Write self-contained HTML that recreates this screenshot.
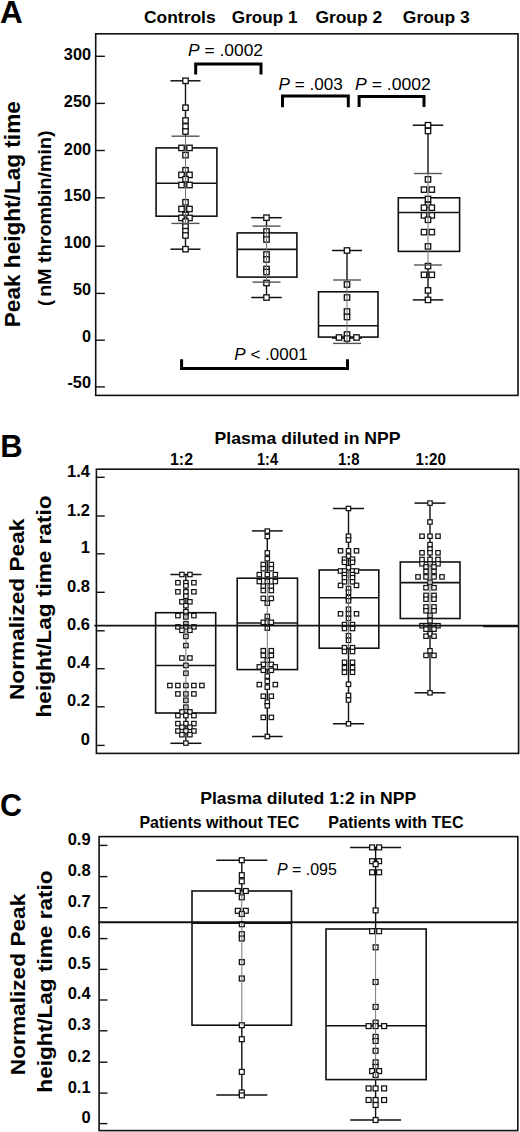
<!DOCTYPE html><html><head><meta charset="utf-8"><style>html,body{margin:0;padding:0;background:#fff;}svg{display:block;}text{font-family:"Liberation Sans", sans-serif;fill:#000;}</style></head><body>
<svg width="520" height="1132" viewBox="0 0 520 1132">
<rect x="0" y="0" width="520" height="1132" fill="#fff"/>
<text x="0.0" y="22.6" font-size="31.5" font-weight="bold" text-anchor="start">A</text>
<text x="144.0" y="23.0" font-size="17" font-weight="bold" text-anchor="start" textLength="71.6" lengthAdjust="spacingAndGlyphs">Controls</text>
<text x="231.8" y="23.0" font-size="17" font-weight="bold" text-anchor="start" textLength="65.7" lengthAdjust="spacingAndGlyphs">Group 1</text>
<text x="315.4" y="23.0" font-size="17" font-weight="bold" text-anchor="start" textLength="66.8" lengthAdjust="spacingAndGlyphs">Group 2</text>
<text x="402.8" y="23.0" font-size="17" font-weight="bold" text-anchor="start" textLength="67.0" lengthAdjust="spacingAndGlyphs">Group 3</text>
<rect x="95.7" y="33.8" width="422.3" height="361.59999999999997" fill="none" stroke="#111" stroke-width="1.6"/>
<line x1="95.7" y1="56.3" x2="104.9" y2="56.3" stroke="#111" stroke-width="1.4" stroke-linecap="butt"/>
<text x="91.0" y="60.1" font-size="16.3" font-weight="bold" text-anchor="end">300</text>
<line x1="95.7" y1="103.4" x2="104.9" y2="103.4" stroke="#111" stroke-width="1.4" stroke-linecap="butt"/>
<text x="91.0" y="107.2" font-size="16.3" font-weight="bold" text-anchor="end">250</text>
<line x1="95.7" y1="150.5" x2="104.9" y2="150.5" stroke="#111" stroke-width="1.4" stroke-linecap="butt"/>
<text x="91.0" y="154.6" font-size="16.3" font-weight="bold" text-anchor="end">200</text>
<line x1="95.7" y1="197.8" x2="104.9" y2="197.8" stroke="#111" stroke-width="1.4" stroke-linecap="butt"/>
<text x="91.0" y="200.7" font-size="16.3" font-weight="bold" text-anchor="end">150</text>
<line x1="95.7" y1="246.2" x2="104.9" y2="246.2" stroke="#111" stroke-width="1.4" stroke-linecap="butt"/>
<text x="91.0" y="247.6" font-size="16.3" font-weight="bold" text-anchor="end">100</text>
<line x1="95.7" y1="293.4" x2="104.9" y2="293.4" stroke="#111" stroke-width="1.4" stroke-linecap="butt"/>
<text x="91.0" y="294.7" font-size="16.3" font-weight="bold" text-anchor="end">50</text>
<line x1="95.7" y1="340.2" x2="104.9" y2="340.2" stroke="#111" stroke-width="1.4" stroke-linecap="butt"/>
<text x="91.0" y="341.9" font-size="16.3" font-weight="bold" text-anchor="end">0</text>
<line x1="95.7" y1="386.9" x2="104.9" y2="386.9" stroke="#111" stroke-width="1.4" stroke-linecap="butt"/>
<text x="91.0" y="388.2" font-size="16.3" font-weight="bold" text-anchor="end">-50</text>
<text transform="translate(20.2,214.2) rotate(-90)" x="0" y="0" font-size="22" font-weight="bold" text-anchor="middle" textLength="226" lengthAdjust="spacingAndGlyphs">Peak height/Lag time</text>
<text transform="translate(50.8,213.6) rotate(-90)" x="0" y="0" font-size="18" font-weight="bold" text-anchor="middle" textLength="166.5" lengthAdjust="spacingAndGlyphs">nM thrombin/min)</text>
<text transform="translate(50.8,303.1) rotate(-90)" x="0" y="0" font-size="18" font-weight="bold" text-anchor="middle">(</text>
<path d="M195.7 74.4 L195.7 64.0 L261.0 64.0 L261.0 74.4" fill="none" stroke="#000" stroke-width="3.0"/>
<path d="M282.5 107.2 L282.5 96.0 L348.3 96.0 L348.3 107.2" fill="none" stroke="#000" stroke-width="3.0"/>
<path d="M359.1 107.0 L359.1 96.4 L424.0 96.4 L424.0 107.0" fill="none" stroke="#000" stroke-width="3.0"/>
<path d="M181.6 359.2 L181.6 368.5 L347.5 368.5 L347.5 359.2" fill="none" stroke="#000" stroke-width="3"/>
<text x="188" y="55.8" font-size="16.8" textLength="75" lengthAdjust="spacingAndGlyphs"><tspan font-style="italic">P</tspan> = .0002</text>
<text x="278.5" y="89.5" font-size="16.8" textLength="64.2" lengthAdjust="spacingAndGlyphs"><tspan font-style="italic">P</tspan> = .003</text>
<text x="355" y="89.7" font-size="16.8" textLength="75.9" lengthAdjust="spacingAndGlyphs"><tspan font-style="italic">P</tspan> = .0002</text>
<text x="234.3" y="360" font-size="16.8" textLength="73.4" lengthAdjust="spacingAndGlyphs"><tspan font-style="italic">P</tspan> &lt; .0001</text>
<line x1="185.5" y1="80.8" x2="185.5" y2="136.2" stroke="#111" stroke-width="1.4" stroke-linecap="butt"/>
<line x1="185.5" y1="223.4" x2="185.5" y2="249.2" stroke="#111" stroke-width="1.4" stroke-linecap="butt"/>
<rect x="156.1" y="147.9" width="60.80000000000001" height="68.29999999999998" fill="none" stroke="#111" stroke-width="1.6"/>
<line x1="156.1" y1="183.3" x2="216.9" y2="183.3" stroke="#111" stroke-width="1.6" stroke-linecap="butt"/>
<line x1="170.5" y1="80.8" x2="200.5" y2="80.8" stroke="#111" stroke-width="1.5" stroke-linecap="butt"/>
<line x1="170.5" y1="249.2" x2="200.5" y2="249.2" stroke="#111" stroke-width="1.5" stroke-linecap="butt"/>
<rect x="182.80" y="78.10" width="5.4" height="5.4" fill="#fff" stroke="#111" stroke-width="1.3"/>
<rect x="182.80" y="105.00" width="5.4" height="5.4" fill="#fff" stroke="#111" stroke-width="1.3"/>
<rect x="182.80" y="117.80" width="5.4" height="5.4" fill="#fff" stroke="#111" stroke-width="1.3"/>
<rect x="182.80" y="123.80" width="5.4" height="5.4" fill="#fff" stroke="#111" stroke-width="1.3"/>
<rect x="182.80" y="128.80" width="5.4" height="5.4" fill="#fff" stroke="#111" stroke-width="1.3"/>
<rect x="178.80" y="145.20" width="5.4" height="5.4" fill="#fff" stroke="#111" stroke-width="1.3"/>
<rect x="186.80" y="145.20" width="5.4" height="5.4" fill="#fff" stroke="#111" stroke-width="1.3"/>
<rect x="182.80" y="152.40" width="5.4" height="5.4" fill="#fff" stroke="#111" stroke-width="1.3"/>
<rect x="182.80" y="167.60" width="5.4" height="5.4" fill="#fff" stroke="#111" stroke-width="1.3"/>
<rect x="178.80" y="172.20" width="5.4" height="5.4" fill="#fff" stroke="#111" stroke-width="1.3"/>
<rect x="186.80" y="172.20" width="5.4" height="5.4" fill="#fff" stroke="#111" stroke-width="1.3"/>
<rect x="182.80" y="176.50" width="5.4" height="5.4" fill="#fff" stroke="#111" stroke-width="1.3"/>
<rect x="178.80" y="182.30" width="5.4" height="5.4" fill="#fff" stroke="#111" stroke-width="1.3"/>
<rect x="186.80" y="182.30" width="5.4" height="5.4" fill="#fff" stroke="#111" stroke-width="1.3"/>
<rect x="182.80" y="199.60" width="5.4" height="5.4" fill="#fff" stroke="#111" stroke-width="1.3"/>
<rect x="178.80" y="206.30" width="5.4" height="5.4" fill="#fff" stroke="#111" stroke-width="1.3"/>
<rect x="186.80" y="206.30" width="5.4" height="5.4" fill="#fff" stroke="#111" stroke-width="1.3"/>
<rect x="182.80" y="212.30" width="5.4" height="5.4" fill="#fff" stroke="#111" stroke-width="1.3"/>
<rect x="178.80" y="215.20" width="5.4" height="5.4" fill="#fff" stroke="#111" stroke-width="1.3"/>
<rect x="186.80" y="215.20" width="5.4" height="5.4" fill="#fff" stroke="#111" stroke-width="1.3"/>
<rect x="182.80" y="218.80" width="5.4" height="5.4" fill="#fff" stroke="#111" stroke-width="1.3"/>
<rect x="182.80" y="223.80" width="5.4" height="5.4" fill="#fff" stroke="#111" stroke-width="1.3"/>
<rect x="182.80" y="228.50" width="5.4" height="5.4" fill="#fff" stroke="#111" stroke-width="1.3"/>
<rect x="182.80" y="232.80" width="5.4" height="5.4" fill="#fff" stroke="#111" stroke-width="1.3"/>
<rect x="182.80" y="246.50" width="5.4" height="5.4" fill="#fff" stroke="#111" stroke-width="1.3"/>
<line x1="185.5" y1="136.2" x2="185.5" y2="223.4" stroke="#777" stroke-width="1.0" stroke-linecap="butt"/>
<line x1="171.5" y1="136.2" x2="199.5" y2="136.2" stroke="#555" stroke-width="1.4" stroke-linecap="butt"/>
<line x1="171.5" y1="223.4" x2="199.5" y2="223.4" stroke="#555" stroke-width="1.4" stroke-linecap="butt"/>
<line x1="266.5" y1="217.7" x2="266.5" y2="226.1" stroke="#111" stroke-width="1.4" stroke-linecap="butt"/>
<line x1="266.5" y1="282.1" x2="266.5" y2="297.5" stroke="#111" stroke-width="1.4" stroke-linecap="butt"/>
<rect x="237.2" y="232.9" width="59.69999999999999" height="44.20000000000002" fill="none" stroke="#111" stroke-width="1.6"/>
<line x1="237.2" y1="249.4" x2="296.9" y2="249.4" stroke="#111" stroke-width="1.6" stroke-linecap="butt"/>
<line x1="251.25" y1="217.7" x2="281.75" y2="217.7" stroke="#111" stroke-width="1.5" stroke-linecap="butt"/>
<line x1="251.25" y1="297.5" x2="281.75" y2="297.5" stroke="#111" stroke-width="1.5" stroke-linecap="butt"/>
<rect x="263.80" y="215.00" width="5.4" height="5.4" fill="#fff" stroke="#111" stroke-width="1.3"/>
<rect x="263.80" y="228.80" width="5.4" height="5.4" fill="#fff" stroke="#111" stroke-width="1.3"/>
<rect x="263.80" y="232.80" width="5.4" height="5.4" fill="#fff" stroke="#111" stroke-width="1.3"/>
<rect x="263.80" y="236.80" width="5.4" height="5.4" fill="#fff" stroke="#111" stroke-width="1.3"/>
<rect x="263.80" y="251.80" width="5.4" height="5.4" fill="#fff" stroke="#111" stroke-width="1.3"/>
<rect x="263.80" y="256.80" width="5.4" height="5.4" fill="#fff" stroke="#111" stroke-width="1.3"/>
<rect x="263.80" y="266.30" width="5.4" height="5.4" fill="#fff" stroke="#111" stroke-width="1.3"/>
<rect x="263.80" y="269.30" width="5.4" height="5.4" fill="#fff" stroke="#111" stroke-width="1.3"/>
<rect x="263.80" y="280.30" width="5.4" height="5.4" fill="#fff" stroke="#111" stroke-width="1.3"/>
<rect x="263.80" y="294.80" width="5.4" height="5.4" fill="#fff" stroke="#111" stroke-width="1.3"/>
<line x1="266.5" y1="226.1" x2="266.5" y2="282.1" stroke="#777" stroke-width="1.0" stroke-linecap="butt"/>
<line x1="252.5" y1="226.1" x2="280.5" y2="226.1" stroke="#555" stroke-width="1.4" stroke-linecap="butt"/>
<line x1="252.5" y1="282.1" x2="280.5" y2="282.1" stroke="#555" stroke-width="1.4" stroke-linecap="butt"/>
<line x1="347.0" y1="250.5" x2="347.0" y2="280.0" stroke="#111" stroke-width="1.4" stroke-linecap="butt"/>
<line x1="347.0" y1="343.4" x2="347.0" y2="338.0" stroke="#111" stroke-width="1.4" stroke-linecap="butt"/>
<rect x="318.5" y="291.8" width="59.5" height="45.30000000000001" fill="none" stroke="#111" stroke-width="1.6"/>
<line x1="318.5" y1="325.8" x2="378.0" y2="325.8" stroke="#111" stroke-width="1.6" stroke-linecap="butt"/>
<line x1="332.0" y1="250.5" x2="362.0" y2="250.5" stroke="#111" stroke-width="1.5" stroke-linecap="butt"/>
<line x1="332.0" y1="338.0" x2="362.0" y2="338.0" stroke="#111" stroke-width="1.5" stroke-linecap="butt"/>
<rect x="344.30" y="247.80" width="5.4" height="5.4" fill="#fff" stroke="#111" stroke-width="1.3"/>
<rect x="344.30" y="281.80" width="5.4" height="5.4" fill="#fff" stroke="#111" stroke-width="1.3"/>
<rect x="344.30" y="294.80" width="5.4" height="5.4" fill="#fff" stroke="#111" stroke-width="1.3"/>
<rect x="344.30" y="308.80" width="5.4" height="5.4" fill="#fff" stroke="#111" stroke-width="1.3"/>
<rect x="344.30" y="314.30" width="5.4" height="5.4" fill="#fff" stroke="#111" stroke-width="1.3"/>
<rect x="344.30" y="331.80" width="5.4" height="5.4" fill="#fff" stroke="#111" stroke-width="1.3"/>
<rect x="336.30" y="334.80" width="5.4" height="5.4" fill="#fff" stroke="#111" stroke-width="1.3"/>
<rect x="353.80" y="334.80" width="5.4" height="5.4" fill="#fff" stroke="#111" stroke-width="1.3"/>
<rect x="344.30" y="335.80" width="5.4" height="5.4" fill="#fff" stroke="#111" stroke-width="1.3"/>
<line x1="347.0" y1="280.0" x2="347.0" y2="343.4" stroke="#777" stroke-width="1.0" stroke-linecap="butt"/>
<line x1="333.0" y1="280.0" x2="361.0" y2="280.0" stroke="#555" stroke-width="1.4" stroke-linecap="butt"/>
<line x1="333.0" y1="343.4" x2="361.0" y2="343.4" stroke="#555" stroke-width="1.4" stroke-linecap="butt"/>
<line x1="428.0" y1="125.2" x2="428.0" y2="173.5" stroke="#111" stroke-width="1.4" stroke-linecap="butt"/>
<line x1="428.0" y1="265.0" x2="428.0" y2="299.9" stroke="#111" stroke-width="1.4" stroke-linecap="butt"/>
<rect x="398.3" y="197.8" width="61.30000000000001" height="53.599999999999994" fill="none" stroke="#111" stroke-width="1.6"/>
<line x1="398.3" y1="212.5" x2="459.6" y2="212.5" stroke="#111" stroke-width="1.6" stroke-linecap="butt"/>
<line x1="412.75" y1="125.2" x2="443.25" y2="125.2" stroke="#111" stroke-width="1.5" stroke-linecap="butt"/>
<line x1="412.75" y1="299.9" x2="443.25" y2="299.9" stroke="#111" stroke-width="1.5" stroke-linecap="butt"/>
<rect x="425.30" y="122.50" width="5.4" height="5.4" fill="#fff" stroke="#111" stroke-width="1.3"/>
<rect x="425.30" y="128.30" width="5.4" height="5.4" fill="#fff" stroke="#111" stroke-width="1.3"/>
<rect x="425.30" y="176.70" width="5.4" height="5.4" fill="#fff" stroke="#111" stroke-width="1.3"/>
<rect x="421.30" y="186.90" width="5.4" height="5.4" fill="#fff" stroke="#111" stroke-width="1.3"/>
<rect x="429.10" y="186.90" width="5.4" height="5.4" fill="#fff" stroke="#111" stroke-width="1.3"/>
<rect x="425.30" y="196.30" width="5.4" height="5.4" fill="#fff" stroke="#111" stroke-width="1.3"/>
<rect x="425.30" y="202.30" width="5.4" height="5.4" fill="#fff" stroke="#111" stroke-width="1.3"/>
<rect x="421.30" y="205.00" width="5.4" height="5.4" fill="#fff" stroke="#111" stroke-width="1.3"/>
<rect x="429.10" y="205.00" width="5.4" height="5.4" fill="#fff" stroke="#111" stroke-width="1.3"/>
<rect x="421.30" y="212.70" width="5.4" height="5.4" fill="#fff" stroke="#111" stroke-width="1.3"/>
<rect x="429.10" y="212.70" width="5.4" height="5.4" fill="#fff" stroke="#111" stroke-width="1.3"/>
<rect x="425.30" y="217.10" width="5.4" height="5.4" fill="#fff" stroke="#111" stroke-width="1.3"/>
<rect x="421.30" y="229.40" width="5.4" height="5.4" fill="#fff" stroke="#111" stroke-width="1.3"/>
<rect x="429.10" y="229.40" width="5.4" height="5.4" fill="#fff" stroke="#111" stroke-width="1.3"/>
<rect x="425.30" y="243.70" width="5.4" height="5.4" fill="#fff" stroke="#111" stroke-width="1.3"/>
<rect x="425.30" y="263.40" width="5.4" height="5.4" fill="#fff" stroke="#111" stroke-width="1.3"/>
<rect x="421.30" y="272.10" width="5.4" height="5.4" fill="#fff" stroke="#111" stroke-width="1.3"/>
<rect x="429.10" y="272.10" width="5.4" height="5.4" fill="#fff" stroke="#111" stroke-width="1.3"/>
<rect x="425.30" y="287.70" width="5.4" height="5.4" fill="#fff" stroke="#111" stroke-width="1.3"/>
<rect x="425.30" y="297.20" width="5.4" height="5.4" fill="#fff" stroke="#111" stroke-width="1.3"/>
<line x1="428.0" y1="173.5" x2="428.0" y2="265.0" stroke="#777" stroke-width="1.0" stroke-linecap="butt"/>
<line x1="414.0" y1="173.5" x2="442.0" y2="173.5" stroke="#555" stroke-width="1.4" stroke-linecap="butt"/>
<line x1="414.0" y1="265.0" x2="442.0" y2="265.0" stroke="#555" stroke-width="1.4" stroke-linecap="butt"/>
<text x="0.3" y="456.9" font-size="31" font-weight="bold" text-anchor="start">B</text>
<text x="214.6" y="443.5" font-size="16.2" font-weight="bold" text-anchor="start" textLength="186.0" lengthAdjust="spacingAndGlyphs">Plasma diluted in NPP</text>
<text x="170" y="465.3" font-size="16.4" font-weight="bold" text-anchor="start" textLength="23" lengthAdjust="spacingAndGlyphs">1:2</text>
<text x="257" y="465.3" font-size="16.4" font-weight="bold" text-anchor="start" textLength="21" lengthAdjust="spacingAndGlyphs">1:4</text>
<text x="338" y="465.3" font-size="16.4" font-weight="bold" text-anchor="start" textLength="21.6" lengthAdjust="spacingAndGlyphs">1:8</text>
<text x="415.6" y="465.3" font-size="16.4" font-weight="bold" text-anchor="start" textLength="30.2" lengthAdjust="spacingAndGlyphs">1:20</text>
<rect x="96.4" y="469.2" width="422.20000000000005" height="284.2" fill="none" stroke="#111" stroke-width="1.6"/>
<line x1="96.4" y1="477.3" x2="104.7" y2="477.3" stroke="#111" stroke-width="1.4" stroke-linecap="butt"/>
<text x="89.9" y="476.90000000000003" font-size="16.5" font-weight="bold" text-anchor="end">1.4</text>
<line x1="96.4" y1="516.0" x2="104.7" y2="516.0" stroke="#111" stroke-width="1.4" stroke-linecap="butt"/>
<text x="89.9" y="515.6" font-size="16.5" font-weight="bold" text-anchor="end">1.2</text>
<line x1="96.4" y1="553.8" x2="104.7" y2="553.8" stroke="#111" stroke-width="1.4" stroke-linecap="butt"/>
<text x="89.9" y="553.4" font-size="16.5" font-weight="bold" text-anchor="end">1</text>
<line x1="96.4" y1="592.3" x2="104.7" y2="592.3" stroke="#111" stroke-width="1.4" stroke-linecap="butt"/>
<text x="89.9" y="591.9" font-size="16.5" font-weight="bold" text-anchor="end">0.8</text>
<line x1="96.4" y1="630.8" x2="104.7" y2="630.8" stroke="#111" stroke-width="1.4" stroke-linecap="butt"/>
<text x="89.9" y="630.4" font-size="16.5" font-weight="bold" text-anchor="end">0.6</text>
<line x1="96.4" y1="668.7" x2="104.7" y2="668.7" stroke="#111" stroke-width="1.4" stroke-linecap="butt"/>
<text x="89.9" y="668.3000000000001" font-size="16.5" font-weight="bold" text-anchor="end">0.4</text>
<line x1="96.4" y1="706.8" x2="104.7" y2="706.8" stroke="#111" stroke-width="1.4" stroke-linecap="butt"/>
<text x="89.9" y="706.4" font-size="16.5" font-weight="bold" text-anchor="end">0.2</text>
<line x1="96.4" y1="745.4" x2="104.7" y2="745.4" stroke="#111" stroke-width="1.4" stroke-linecap="butt"/>
<text x="89.9" y="745.0" font-size="16.5" font-weight="bold" text-anchor="end">0</text>
<text transform="translate(24.2,609.3) rotate(-90)" x="0" y="0" font-size="21" font-weight="bold" text-anchor="middle" textLength="181.5" lengthAdjust="spacingAndGlyphs">Normalized Peak</text>
<text transform="translate(51.3,606.5) rotate(-90)" x="0" y="0" font-size="21" font-weight="bold" text-anchor="middle" textLength="221.9" lengthAdjust="spacingAndGlyphs">height/Lag time ratio</text>
<line x1="185.9" y1="574.5" x2="185.9" y2="612.7" stroke="#111" stroke-width="1.4" stroke-linecap="butt"/>
<line x1="185.9" y1="713.0" x2="185.9" y2="743.3" stroke="#111" stroke-width="1.4" stroke-linecap="butt"/>
<rect x="155.6" y="612.7" width="60.099999999999994" height="100.29999999999995" fill="none" stroke="#111" stroke-width="1.6"/>
<line x1="155.6" y1="665.5" x2="215.7" y2="665.5" stroke="#111" stroke-width="1.6" stroke-linecap="butt"/>
<line x1="170.4" y1="574.5" x2="201.4" y2="574.5" stroke="#111" stroke-width="1.5" stroke-linecap="butt"/>
<line x1="170.4" y1="743.3" x2="201.4" y2="743.3" stroke="#111" stroke-width="1.5" stroke-linecap="butt"/>
<rect x="179.70" y="572.30" width="4.4" height="4.4" fill="#fff" stroke="#111" stroke-width="1.2"/>
<rect x="187.70" y="572.30" width="4.4" height="4.4" fill="#fff" stroke="#111" stroke-width="1.2"/>
<rect x="175.70" y="580.50" width="4.4" height="4.4" fill="#fff" stroke="#111" stroke-width="1.2"/>
<rect x="183.70" y="580.50" width="4.4" height="4.4" fill="#fff" stroke="#111" stroke-width="1.2"/>
<rect x="191.70" y="580.50" width="4.4" height="4.4" fill="#fff" stroke="#111" stroke-width="1.2"/>
<rect x="183.70" y="583.60" width="4.4" height="4.4" fill="#fff" stroke="#111" stroke-width="1.2"/>
<rect x="175.70" y="589.60" width="4.4" height="4.4" fill="#fff" stroke="#111" stroke-width="1.2"/>
<rect x="183.70" y="589.60" width="4.4" height="4.4" fill="#fff" stroke="#111" stroke-width="1.2"/>
<rect x="191.70" y="589.60" width="4.4" height="4.4" fill="#fff" stroke="#111" stroke-width="1.2"/>
<rect x="183.70" y="594.00" width="4.4" height="4.4" fill="#fff" stroke="#111" stroke-width="1.2"/>
<rect x="179.70" y="599.60" width="4.4" height="4.4" fill="#fff" stroke="#111" stroke-width="1.2"/>
<rect x="187.70" y="599.60" width="4.4" height="4.4" fill="#fff" stroke="#111" stroke-width="1.2"/>
<rect x="183.70" y="603.50" width="4.4" height="4.4" fill="#fff" stroke="#111" stroke-width="1.2"/>
<rect x="183.70" y="609.50" width="4.4" height="4.4" fill="#fff" stroke="#111" stroke-width="1.2"/>
<rect x="175.70" y="613.40" width="4.4" height="4.4" fill="#fff" stroke="#111" stroke-width="1.2"/>
<rect x="183.70" y="613.40" width="4.4" height="4.4" fill="#fff" stroke="#111" stroke-width="1.2"/>
<rect x="191.70" y="613.40" width="4.4" height="4.4" fill="#fff" stroke="#111" stroke-width="1.2"/>
<rect x="183.70" y="614.80" width="4.4" height="4.4" fill="#fff" stroke="#111" stroke-width="1.2"/>
<rect x="183.70" y="621.60" width="4.4" height="4.4" fill="#fff" stroke="#111" stroke-width="1.2"/>
<rect x="175.70" y="624.70" width="4.4" height="4.4" fill="#fff" stroke="#111" stroke-width="1.2"/>
<rect x="183.70" y="624.70" width="4.4" height="4.4" fill="#fff" stroke="#111" stroke-width="1.2"/>
<rect x="191.70" y="624.70" width="4.4" height="4.4" fill="#fff" stroke="#111" stroke-width="1.2"/>
<rect x="179.70" y="628.10" width="4.4" height="4.4" fill="#fff" stroke="#111" stroke-width="1.2"/>
<rect x="187.70" y="628.10" width="4.4" height="4.4" fill="#fff" stroke="#111" stroke-width="1.2"/>
<rect x="183.70" y="634.20" width="4.4" height="4.4" fill="#fff" stroke="#111" stroke-width="1.2"/>
<rect x="183.70" y="643.30" width="4.4" height="4.4" fill="#fff" stroke="#111" stroke-width="1.2"/>
<rect x="179.70" y="655.80" width="4.4" height="4.4" fill="#fff" stroke="#111" stroke-width="1.2"/>
<rect x="187.70" y="655.80" width="4.4" height="4.4" fill="#fff" stroke="#111" stroke-width="1.2"/>
<rect x="183.70" y="663.20" width="4.4" height="4.4" fill="#fff" stroke="#111" stroke-width="1.2"/>
<rect x="183.70" y="671.10" width="4.4" height="4.4" fill="#fff" stroke="#111" stroke-width="1.2"/>
<rect x="167.70" y="683.30" width="4.4" height="4.4" fill="#fff" stroke="#111" stroke-width="1.2"/>
<rect x="175.70" y="683.30" width="4.4" height="4.4" fill="#fff" stroke="#111" stroke-width="1.2"/>
<rect x="183.70" y="683.30" width="4.4" height="4.4" fill="#fff" stroke="#111" stroke-width="1.2"/>
<rect x="191.70" y="683.30" width="4.4" height="4.4" fill="#fff" stroke="#111" stroke-width="1.2"/>
<rect x="199.70" y="683.30" width="4.4" height="4.4" fill="#fff" stroke="#111" stroke-width="1.2"/>
<rect x="175.70" y="691.70" width="4.4" height="4.4" fill="#fff" stroke="#111" stroke-width="1.2"/>
<rect x="183.70" y="691.70" width="4.4" height="4.4" fill="#fff" stroke="#111" stroke-width="1.2"/>
<rect x="191.70" y="691.70" width="4.4" height="4.4" fill="#fff" stroke="#111" stroke-width="1.2"/>
<rect x="183.70" y="698.10" width="4.4" height="4.4" fill="#fff" stroke="#111" stroke-width="1.2"/>
<rect x="183.70" y="705.00" width="4.4" height="4.4" fill="#fff" stroke="#111" stroke-width="1.2"/>
<rect x="179.70" y="709.70" width="4.4" height="4.4" fill="#fff" stroke="#111" stroke-width="1.2"/>
<rect x="187.70" y="709.70" width="4.4" height="4.4" fill="#fff" stroke="#111" stroke-width="1.2"/>
<rect x="175.70" y="713.40" width="4.4" height="4.4" fill="#fff" stroke="#111" stroke-width="1.2"/>
<rect x="183.70" y="713.40" width="4.4" height="4.4" fill="#fff" stroke="#111" stroke-width="1.2"/>
<rect x="191.70" y="713.40" width="4.4" height="4.4" fill="#fff" stroke="#111" stroke-width="1.2"/>
<rect x="175.70" y="721.40" width="4.4" height="4.4" fill="#fff" stroke="#111" stroke-width="1.2"/>
<rect x="183.70" y="721.40" width="4.4" height="4.4" fill="#fff" stroke="#111" stroke-width="1.2"/>
<rect x="191.70" y="721.40" width="4.4" height="4.4" fill="#fff" stroke="#111" stroke-width="1.2"/>
<rect x="179.70" y="725.10" width="4.4" height="4.4" fill="#fff" stroke="#111" stroke-width="1.2"/>
<rect x="187.70" y="725.10" width="4.4" height="4.4" fill="#fff" stroke="#111" stroke-width="1.2"/>
<rect x="175.70" y="728.80" width="4.4" height="4.4" fill="#fff" stroke="#111" stroke-width="1.2"/>
<rect x="183.70" y="728.80" width="4.4" height="4.4" fill="#fff" stroke="#111" stroke-width="1.2"/>
<rect x="191.70" y="728.80" width="4.4" height="4.4" fill="#fff" stroke="#111" stroke-width="1.2"/>
<rect x="179.70" y="732.50" width="4.4" height="4.4" fill="#fff" stroke="#111" stroke-width="1.2"/>
<rect x="187.70" y="732.50" width="4.4" height="4.4" fill="#fff" stroke="#111" stroke-width="1.2"/>
<rect x="183.70" y="740.90" width="4.4" height="4.4" fill="#fff" stroke="#111" stroke-width="1.2"/>
<line x1="185.9" y1="612.7" x2="185.9" y2="713.0" stroke="#777" stroke-width="1.0" stroke-linecap="butt"/>
<line x1="267.3" y1="530.9" x2="267.3" y2="578.2" stroke="#111" stroke-width="1.4" stroke-linecap="butt"/>
<line x1="267.3" y1="669.6" x2="267.3" y2="736.5" stroke="#111" stroke-width="1.4" stroke-linecap="butt"/>
<rect x="237.2" y="578.2" width="60.30000000000001" height="91.39999999999998" fill="none" stroke="#111" stroke-width="1.6"/>
<line x1="237.2" y1="623.0" x2="297.5" y2="623.0" stroke="#111" stroke-width="1.6" stroke-linecap="butt"/>
<line x1="251.95000000000002" y1="530.9" x2="282.65000000000003" y2="530.9" stroke="#111" stroke-width="1.5" stroke-linecap="butt"/>
<line x1="251.95000000000002" y1="736.5" x2="282.65000000000003" y2="736.5" stroke="#111" stroke-width="1.5" stroke-linecap="butt"/>
<rect x="265.10" y="528.90" width="4.4" height="4.4" fill="#fff" stroke="#111" stroke-width="1.2"/>
<rect x="265.10" y="534.20" width="4.4" height="4.4" fill="#fff" stroke="#111" stroke-width="1.2"/>
<rect x="265.10" y="550.70" width="4.4" height="4.4" fill="#fff" stroke="#111" stroke-width="1.2"/>
<rect x="265.10" y="556.50" width="4.4" height="4.4" fill="#fff" stroke="#111" stroke-width="1.2"/>
<rect x="261.10" y="562.30" width="4.4" height="4.4" fill="#fff" stroke="#111" stroke-width="1.2"/>
<rect x="269.10" y="562.30" width="4.4" height="4.4" fill="#fff" stroke="#111" stroke-width="1.2"/>
<rect x="261.10" y="566.50" width="4.4" height="4.4" fill="#fff" stroke="#111" stroke-width="1.2"/>
<rect x="269.10" y="566.50" width="4.4" height="4.4" fill="#fff" stroke="#111" stroke-width="1.2"/>
<rect x="257.10" y="572.40" width="4.4" height="4.4" fill="#fff" stroke="#111" stroke-width="1.2"/>
<rect x="265.10" y="572.40" width="4.4" height="4.4" fill="#fff" stroke="#111" stroke-width="1.2"/>
<rect x="273.10" y="572.40" width="4.4" height="4.4" fill="#fff" stroke="#111" stroke-width="1.2"/>
<rect x="257.10" y="579.30" width="4.4" height="4.4" fill="#fff" stroke="#111" stroke-width="1.2"/>
<rect x="265.10" y="579.30" width="4.4" height="4.4" fill="#fff" stroke="#111" stroke-width="1.2"/>
<rect x="273.10" y="579.30" width="4.4" height="4.4" fill="#fff" stroke="#111" stroke-width="1.2"/>
<rect x="261.10" y="584.00" width="4.4" height="4.4" fill="#fff" stroke="#111" stroke-width="1.2"/>
<rect x="269.10" y="584.00" width="4.4" height="4.4" fill="#fff" stroke="#111" stroke-width="1.2"/>
<rect x="261.10" y="588.30" width="4.4" height="4.4" fill="#fff" stroke="#111" stroke-width="1.2"/>
<rect x="269.10" y="588.30" width="4.4" height="4.4" fill="#fff" stroke="#111" stroke-width="1.2"/>
<rect x="261.10" y="596.20" width="4.4" height="4.4" fill="#fff" stroke="#111" stroke-width="1.2"/>
<rect x="269.10" y="596.20" width="4.4" height="4.4" fill="#fff" stroke="#111" stroke-width="1.2"/>
<rect x="265.10" y="601.00" width="4.4" height="4.4" fill="#fff" stroke="#111" stroke-width="1.2"/>
<rect x="265.10" y="614.20" width="4.4" height="4.4" fill="#fff" stroke="#111" stroke-width="1.2"/>
<rect x="261.10" y="620.10" width="4.4" height="4.4" fill="#fff" stroke="#111" stroke-width="1.2"/>
<rect x="265.10" y="620.10" width="4.4" height="4.4" fill="#fff" stroke="#111" stroke-width="1.2"/>
<rect x="269.10" y="620.10" width="4.4" height="4.4" fill="#fff" stroke="#111" stroke-width="1.2"/>
<rect x="265.10" y="625.90" width="4.4" height="4.4" fill="#fff" stroke="#111" stroke-width="1.2"/>
<rect x="261.10" y="648.50" width="4.4" height="4.4" fill="#fff" stroke="#111" stroke-width="1.2"/>
<rect x="269.10" y="648.50" width="4.4" height="4.4" fill="#fff" stroke="#111" stroke-width="1.2"/>
<rect x="261.10" y="653.20" width="4.4" height="4.4" fill="#fff" stroke="#111" stroke-width="1.2"/>
<rect x="269.10" y="653.20" width="4.4" height="4.4" fill="#fff" stroke="#111" stroke-width="1.2"/>
<rect x="265.10" y="658.00" width="4.4" height="4.4" fill="#fff" stroke="#111" stroke-width="1.2"/>
<rect x="261.10" y="662.20" width="4.4" height="4.4" fill="#fff" stroke="#111" stroke-width="1.2"/>
<rect x="269.10" y="662.20" width="4.4" height="4.4" fill="#fff" stroke="#111" stroke-width="1.2"/>
<rect x="257.10" y="664.70" width="4.4" height="4.4" fill="#fff" stroke="#111" stroke-width="1.2"/>
<rect x="273.10" y="664.70" width="4.4" height="4.4" fill="#fff" stroke="#111" stroke-width="1.2"/>
<rect x="261.10" y="668.10" width="4.4" height="4.4" fill="#fff" stroke="#111" stroke-width="1.2"/>
<rect x="269.10" y="668.10" width="4.4" height="4.4" fill="#fff" stroke="#111" stroke-width="1.2"/>
<rect x="265.10" y="673.90" width="4.4" height="4.4" fill="#fff" stroke="#111" stroke-width="1.2"/>
<rect x="265.10" y="679.20" width="4.4" height="4.4" fill="#fff" stroke="#111" stroke-width="1.2"/>
<rect x="257.10" y="682.40" width="4.4" height="4.4" fill="#fff" stroke="#111" stroke-width="1.2"/>
<rect x="273.10" y="682.40" width="4.4" height="4.4" fill="#fff" stroke="#111" stroke-width="1.2"/>
<rect x="265.10" y="685.00" width="4.4" height="4.4" fill="#fff" stroke="#111" stroke-width="1.2"/>
<rect x="261.10" y="694.00" width="4.4" height="4.4" fill="#fff" stroke="#111" stroke-width="1.2"/>
<rect x="269.10" y="694.00" width="4.4" height="4.4" fill="#fff" stroke="#111" stroke-width="1.2"/>
<rect x="265.10" y="699.90" width="4.4" height="4.4" fill="#fff" stroke="#111" stroke-width="1.2"/>
<rect x="265.10" y="703.60" width="4.4" height="4.4" fill="#fff" stroke="#111" stroke-width="1.2"/>
<rect x="261.10" y="715.20" width="4.4" height="4.4" fill="#fff" stroke="#111" stroke-width="1.2"/>
<rect x="269.10" y="715.20" width="4.4" height="4.4" fill="#fff" stroke="#111" stroke-width="1.2"/>
<rect x="265.10" y="734.30" width="4.4" height="4.4" fill="#fff" stroke="#111" stroke-width="1.2"/>
<line x1="267.3" y1="578.2" x2="267.3" y2="669.6" stroke="#777" stroke-width="1.0" stroke-linecap="butt"/>
<line x1="348.5" y1="508.5" x2="348.5" y2="570.0" stroke="#111" stroke-width="1.4" stroke-linecap="butt"/>
<line x1="348.5" y1="648.2" x2="348.5" y2="723.8" stroke="#111" stroke-width="1.4" stroke-linecap="butt"/>
<rect x="319.2" y="570.0" width="59.60000000000002" height="78.20000000000005" fill="none" stroke="#111" stroke-width="1.6"/>
<line x1="319.2" y1="597.7" x2="378.8" y2="597.7" stroke="#111" stroke-width="1.6" stroke-linecap="butt"/>
<line x1="332.9" y1="508.5" x2="364.1" y2="508.5" stroke="#111" stroke-width="1.5" stroke-linecap="butt"/>
<line x1="332.9" y1="723.8" x2="364.1" y2="723.8" stroke="#111" stroke-width="1.5" stroke-linecap="butt"/>
<rect x="346.30" y="506.30" width="4.4" height="4.4" fill="#fff" stroke="#111" stroke-width="1.2"/>
<rect x="346.30" y="534.00" width="4.4" height="4.4" fill="#fff" stroke="#111" stroke-width="1.2"/>
<rect x="346.30" y="537.80" width="4.4" height="4.4" fill="#fff" stroke="#111" stroke-width="1.2"/>
<rect x="338.30" y="548.60" width="4.4" height="4.4" fill="#fff" stroke="#111" stroke-width="1.2"/>
<rect x="346.30" y="548.60" width="4.4" height="4.4" fill="#fff" stroke="#111" stroke-width="1.2"/>
<rect x="354.30" y="548.60" width="4.4" height="4.4" fill="#fff" stroke="#111" stroke-width="1.2"/>
<rect x="346.30" y="554.00" width="4.4" height="4.4" fill="#fff" stroke="#111" stroke-width="1.2"/>
<rect x="342.30" y="557.00" width="4.4" height="4.4" fill="#fff" stroke="#111" stroke-width="1.2"/>
<rect x="350.30" y="557.00" width="4.4" height="4.4" fill="#fff" stroke="#111" stroke-width="1.2"/>
<rect x="342.30" y="560.10" width="4.4" height="4.4" fill="#fff" stroke="#111" stroke-width="1.2"/>
<rect x="350.30" y="560.10" width="4.4" height="4.4" fill="#fff" stroke="#111" stroke-width="1.2"/>
<rect x="346.30" y="565.50" width="4.4" height="4.4" fill="#fff" stroke="#111" stroke-width="1.2"/>
<rect x="338.30" y="568.80" width="4.4" height="4.4" fill="#fff" stroke="#111" stroke-width="1.2"/>
<rect x="342.30" y="568.80" width="4.4" height="4.4" fill="#fff" stroke="#111" stroke-width="1.2"/>
<rect x="350.30" y="568.80" width="4.4" height="4.4" fill="#fff" stroke="#111" stroke-width="1.2"/>
<rect x="354.30" y="568.80" width="4.4" height="4.4" fill="#fff" stroke="#111" stroke-width="1.2"/>
<rect x="342.30" y="572.40" width="4.4" height="4.4" fill="#fff" stroke="#111" stroke-width="1.2"/>
<rect x="350.30" y="572.40" width="4.4" height="4.4" fill="#fff" stroke="#111" stroke-width="1.2"/>
<rect x="342.30" y="575.50" width="4.4" height="4.4" fill="#fff" stroke="#111" stroke-width="1.2"/>
<rect x="350.30" y="575.50" width="4.4" height="4.4" fill="#fff" stroke="#111" stroke-width="1.2"/>
<rect x="342.30" y="579.60" width="4.4" height="4.4" fill="#fff" stroke="#111" stroke-width="1.2"/>
<rect x="350.30" y="579.60" width="4.4" height="4.4" fill="#fff" stroke="#111" stroke-width="1.2"/>
<rect x="338.30" y="583.20" width="4.4" height="4.4" fill="#fff" stroke="#111" stroke-width="1.2"/>
<rect x="354.30" y="583.20" width="4.4" height="4.4" fill="#fff" stroke="#111" stroke-width="1.2"/>
<rect x="346.30" y="586.30" width="4.4" height="4.4" fill="#fff" stroke="#111" stroke-width="1.2"/>
<rect x="346.30" y="590.10" width="4.4" height="4.4" fill="#fff" stroke="#111" stroke-width="1.2"/>
<rect x="346.30" y="595.50" width="4.4" height="4.4" fill="#fff" stroke="#111" stroke-width="1.2"/>
<rect x="346.30" y="598.60" width="4.4" height="4.4" fill="#fff" stroke="#111" stroke-width="1.2"/>
<rect x="346.30" y="607.00" width="4.4" height="4.4" fill="#fff" stroke="#111" stroke-width="1.2"/>
<rect x="338.30" y="611.60" width="4.4" height="4.4" fill="#fff" stroke="#111" stroke-width="1.2"/>
<rect x="346.30" y="611.60" width="4.4" height="4.4" fill="#fff" stroke="#111" stroke-width="1.2"/>
<rect x="354.30" y="611.60" width="4.4" height="4.4" fill="#fff" stroke="#111" stroke-width="1.2"/>
<rect x="346.30" y="616.30" width="4.4" height="4.4" fill="#fff" stroke="#111" stroke-width="1.2"/>
<rect x="342.30" y="622.40" width="4.4" height="4.4" fill="#fff" stroke="#111" stroke-width="1.2"/>
<rect x="350.30" y="622.40" width="4.4" height="4.4" fill="#fff" stroke="#111" stroke-width="1.2"/>
<rect x="342.30" y="626.30" width="4.4" height="4.4" fill="#fff" stroke="#111" stroke-width="1.2"/>
<rect x="350.30" y="626.30" width="4.4" height="4.4" fill="#fff" stroke="#111" stroke-width="1.2"/>
<rect x="346.30" y="633.50" width="4.4" height="4.4" fill="#fff" stroke="#111" stroke-width="1.2"/>
<rect x="346.30" y="638.10" width="4.4" height="4.4" fill="#fff" stroke="#111" stroke-width="1.2"/>
<rect x="342.30" y="645.50" width="4.4" height="4.4" fill="#fff" stroke="#111" stroke-width="1.2"/>
<rect x="350.30" y="645.50" width="4.4" height="4.4" fill="#fff" stroke="#111" stroke-width="1.2"/>
<rect x="342.30" y="649.30" width="4.4" height="4.4" fill="#fff" stroke="#111" stroke-width="1.2"/>
<rect x="350.30" y="649.30" width="4.4" height="4.4" fill="#fff" stroke="#111" stroke-width="1.2"/>
<rect x="342.30" y="660.10" width="4.4" height="4.4" fill="#fff" stroke="#111" stroke-width="1.2"/>
<rect x="350.30" y="660.10" width="4.4" height="4.4" fill="#fff" stroke="#111" stroke-width="1.2"/>
<rect x="342.30" y="665.50" width="4.4" height="4.4" fill="#fff" stroke="#111" stroke-width="1.2"/>
<rect x="350.30" y="665.50" width="4.4" height="4.4" fill="#fff" stroke="#111" stroke-width="1.2"/>
<rect x="342.30" y="670.10" width="4.4" height="4.4" fill="#fff" stroke="#111" stroke-width="1.2"/>
<rect x="350.30" y="670.10" width="4.4" height="4.4" fill="#fff" stroke="#111" stroke-width="1.2"/>
<rect x="346.30" y="682.10" width="4.4" height="4.4" fill="#fff" stroke="#111" stroke-width="1.2"/>
<rect x="346.30" y="693.20" width="4.4" height="4.4" fill="#fff" stroke="#111" stroke-width="1.2"/>
<rect x="346.30" y="697.80" width="4.4" height="4.4" fill="#fff" stroke="#111" stroke-width="1.2"/>
<rect x="346.30" y="721.60" width="4.4" height="4.4" fill="#fff" stroke="#111" stroke-width="1.2"/>
<line x1="348.5" y1="570.0" x2="348.5" y2="648.2" stroke="#777" stroke-width="1.0" stroke-linecap="butt"/>
<line x1="430.0" y1="503.1" x2="430.0" y2="562.0" stroke="#111" stroke-width="1.4" stroke-linecap="butt"/>
<line x1="430.0" y1="618.5" x2="430.0" y2="692.8" stroke="#111" stroke-width="1.4" stroke-linecap="butt"/>
<rect x="400.3" y="562.0" width="59.69999999999999" height="56.5" fill="none" stroke="#111" stroke-width="1.6"/>
<line x1="400.3" y1="582.6" x2="460.0" y2="582.6" stroke="#111" stroke-width="1.6" stroke-linecap="butt"/>
<line x1="414.5" y1="503.1" x2="445.5" y2="503.1" stroke="#111" stroke-width="1.5" stroke-linecap="butt"/>
<line x1="414.5" y1="692.8" x2="445.5" y2="692.8" stroke="#111" stroke-width="1.5" stroke-linecap="butt"/>
<rect x="427.80" y="500.90" width="4.4" height="4.4" fill="#fff" stroke="#111" stroke-width="1.2"/>
<rect x="427.80" y="519.80" width="4.4" height="4.4" fill="#fff" stroke="#111" stroke-width="1.2"/>
<rect x="419.80" y="534.00" width="4.4" height="4.4" fill="#fff" stroke="#111" stroke-width="1.2"/>
<rect x="427.80" y="534.00" width="4.4" height="4.4" fill="#fff" stroke="#111" stroke-width="1.2"/>
<rect x="435.80" y="534.00" width="4.4" height="4.4" fill="#fff" stroke="#111" stroke-width="1.2"/>
<rect x="427.80" y="542.40" width="4.4" height="4.4" fill="#fff" stroke="#111" stroke-width="1.2"/>
<rect x="427.80" y="547.00" width="4.4" height="4.4" fill="#fff" stroke="#111" stroke-width="1.2"/>
<rect x="419.80" y="550.60" width="4.4" height="4.4" fill="#fff" stroke="#111" stroke-width="1.2"/>
<rect x="427.80" y="550.60" width="4.4" height="4.4" fill="#fff" stroke="#111" stroke-width="1.2"/>
<rect x="435.80" y="550.60" width="4.4" height="4.4" fill="#fff" stroke="#111" stroke-width="1.2"/>
<rect x="419.80" y="557.30" width="4.4" height="4.4" fill="#fff" stroke="#111" stroke-width="1.2"/>
<rect x="427.80" y="557.30" width="4.4" height="4.4" fill="#fff" stroke="#111" stroke-width="1.2"/>
<rect x="435.80" y="557.30" width="4.4" height="4.4" fill="#fff" stroke="#111" stroke-width="1.2"/>
<rect x="419.80" y="561.60" width="4.4" height="4.4" fill="#fff" stroke="#111" stroke-width="1.2"/>
<rect x="427.80" y="561.60" width="4.4" height="4.4" fill="#fff" stroke="#111" stroke-width="1.2"/>
<rect x="435.80" y="561.60" width="4.4" height="4.4" fill="#fff" stroke="#111" stroke-width="1.2"/>
<rect x="423.80" y="564.70" width="4.4" height="4.4" fill="#fff" stroke="#111" stroke-width="1.2"/>
<rect x="431.80" y="564.70" width="4.4" height="4.4" fill="#fff" stroke="#111" stroke-width="1.2"/>
<rect x="423.80" y="569.30" width="4.4" height="4.4" fill="#fff" stroke="#111" stroke-width="1.2"/>
<rect x="431.80" y="569.30" width="4.4" height="4.4" fill="#fff" stroke="#111" stroke-width="1.2"/>
<rect x="415.80" y="574.70" width="4.4" height="4.4" fill="#fff" stroke="#111" stroke-width="1.2"/>
<rect x="423.80" y="574.70" width="4.4" height="4.4" fill="#fff" stroke="#111" stroke-width="1.2"/>
<rect x="431.80" y="574.70" width="4.4" height="4.4" fill="#fff" stroke="#111" stroke-width="1.2"/>
<rect x="439.80" y="574.70" width="4.4" height="4.4" fill="#fff" stroke="#111" stroke-width="1.2"/>
<rect x="427.80" y="580.10" width="4.4" height="4.4" fill="#fff" stroke="#111" stroke-width="1.2"/>
<rect x="423.80" y="585.50" width="4.4" height="4.4" fill="#fff" stroke="#111" stroke-width="1.2"/>
<rect x="431.80" y="585.50" width="4.4" height="4.4" fill="#fff" stroke="#111" stroke-width="1.2"/>
<rect x="423.80" y="593.20" width="4.4" height="4.4" fill="#fff" stroke="#111" stroke-width="1.2"/>
<rect x="431.80" y="593.20" width="4.4" height="4.4" fill="#fff" stroke="#111" stroke-width="1.2"/>
<rect x="423.80" y="597.00" width="4.4" height="4.4" fill="#fff" stroke="#111" stroke-width="1.2"/>
<rect x="431.80" y="597.00" width="4.4" height="4.4" fill="#fff" stroke="#111" stroke-width="1.2"/>
<rect x="423.80" y="604.70" width="4.4" height="4.4" fill="#fff" stroke="#111" stroke-width="1.2"/>
<rect x="431.80" y="604.70" width="4.4" height="4.4" fill="#fff" stroke="#111" stroke-width="1.2"/>
<rect x="423.80" y="608.60" width="4.4" height="4.4" fill="#fff" stroke="#111" stroke-width="1.2"/>
<rect x="431.80" y="608.60" width="4.4" height="4.4" fill="#fff" stroke="#111" stroke-width="1.2"/>
<rect x="427.80" y="613.20" width="4.4" height="4.4" fill="#fff" stroke="#111" stroke-width="1.2"/>
<rect x="427.80" y="618.60" width="4.4" height="4.4" fill="#fff" stroke="#111" stroke-width="1.2"/>
<rect x="419.80" y="623.50" width="4.4" height="4.4" fill="#fff" stroke="#111" stroke-width="1.2"/>
<rect x="423.80" y="623.50" width="4.4" height="4.4" fill="#fff" stroke="#111" stroke-width="1.2"/>
<rect x="431.80" y="623.50" width="4.4" height="4.4" fill="#fff" stroke="#111" stroke-width="1.2"/>
<rect x="435.80" y="623.50" width="4.4" height="4.4" fill="#fff" stroke="#111" stroke-width="1.2"/>
<rect x="423.80" y="627.00" width="4.4" height="4.4" fill="#fff" stroke="#111" stroke-width="1.2"/>
<rect x="431.80" y="627.00" width="4.4" height="4.4" fill="#fff" stroke="#111" stroke-width="1.2"/>
<rect x="427.80" y="631.60" width="4.4" height="4.4" fill="#fff" stroke="#111" stroke-width="1.2"/>
<rect x="423.80" y="634.00" width="4.4" height="4.4" fill="#fff" stroke="#111" stroke-width="1.2"/>
<rect x="431.80" y="634.00" width="4.4" height="4.4" fill="#fff" stroke="#111" stroke-width="1.2"/>
<rect x="427.80" y="648.60" width="4.4" height="4.4" fill="#fff" stroke="#111" stroke-width="1.2"/>
<rect x="423.80" y="653.20" width="4.4" height="4.4" fill="#fff" stroke="#111" stroke-width="1.2"/>
<rect x="431.80" y="653.20" width="4.4" height="4.4" fill="#fff" stroke="#111" stroke-width="1.2"/>
<rect x="427.80" y="690.60" width="4.4" height="4.4" fill="#fff" stroke="#111" stroke-width="1.2"/>
<line x1="430.0" y1="562.0" x2="430.0" y2="618.5" stroke="#777" stroke-width="1.0" stroke-linecap="butt"/>
<line x1="94.3" y1="625.6" x2="518.6" y2="625.6" stroke="#111" stroke-width="1.7" stroke-linecap="butt"/>
<line x1="483" y1="626.4" x2="518.6" y2="626.4" stroke="#111" stroke-width="1.6" stroke-linecap="butt"/>
<text x="0.0" y="816.2" font-size="30.5" font-weight="bold" text-anchor="start">C</text>
<text x="200.2" y="803.6" font-size="16.2" font-weight="bold" text-anchor="start" textLength="216.1" lengthAdjust="spacingAndGlyphs">Plasma diluted 1:2 in NPP</text>
<text x="139.4" y="828.3" font-size="16.2" font-weight="bold" text-anchor="start" textLength="159.9" lengthAdjust="spacingAndGlyphs">Patients without TEC</text>
<text x="328.3" y="828.3" font-size="16.2" font-weight="bold" text-anchor="start" textLength="135.3" lengthAdjust="spacingAndGlyphs">Patients with TEC</text>
<rect x="99.1" y="836.6" width="418.69999999999993" height="293.9999999999999" fill="none" stroke="#111" stroke-width="1.6"/>
<line x1="99.1" y1="845.4" x2="107.4" y2="845.4" stroke="#111" stroke-width="1.4" stroke-linecap="butt"/>
<text x="90.6" y="844.8" font-size="16.5" font-weight="bold" text-anchor="end">0.9</text>
<line x1="99.1" y1="876.6" x2="107.4" y2="876.6" stroke="#111" stroke-width="1.4" stroke-linecap="butt"/>
<text x="90.6" y="876.0" font-size="16.5" font-weight="bold" text-anchor="end">0.8</text>
<line x1="99.1" y1="907.7" x2="107.4" y2="907.7" stroke="#111" stroke-width="1.4" stroke-linecap="butt"/>
<text x="90.6" y="907.1" font-size="16.5" font-weight="bold" text-anchor="end">0.7</text>
<line x1="99.1" y1="938.6" x2="107.4" y2="938.6" stroke="#111" stroke-width="1.4" stroke-linecap="butt"/>
<text x="90.6" y="938.0" font-size="16.5" font-weight="bold" text-anchor="end">0.6</text>
<line x1="99.1" y1="969.4" x2="107.4" y2="969.4" stroke="#111" stroke-width="1.4" stroke-linecap="butt"/>
<text x="90.6" y="968.8" font-size="16.5" font-weight="bold" text-anchor="end">0.5</text>
<line x1="99.1" y1="1000.0" x2="107.4" y2="1000.0" stroke="#111" stroke-width="1.4" stroke-linecap="butt"/>
<text x="90.6" y="999.4" font-size="16.5" font-weight="bold" text-anchor="end">0.4</text>
<line x1="99.1" y1="1030.8" x2="107.4" y2="1030.8" stroke="#111" stroke-width="1.4" stroke-linecap="butt"/>
<text x="90.6" y="1030.2" font-size="16.5" font-weight="bold" text-anchor="end">0.3</text>
<line x1="99.1" y1="1062.2" x2="107.4" y2="1062.2" stroke="#111" stroke-width="1.4" stroke-linecap="butt"/>
<text x="90.6" y="1061.6000000000001" font-size="16.5" font-weight="bold" text-anchor="end">0.2</text>
<line x1="99.1" y1="1093.1" x2="107.4" y2="1093.1" stroke="#111" stroke-width="1.4" stroke-linecap="butt"/>
<text x="90.6" y="1092.5" font-size="16.5" font-weight="bold" text-anchor="end">0.1</text>
<line x1="99.1" y1="1123.6" x2="107.4" y2="1123.6" stroke="#111" stroke-width="1.4" stroke-linecap="butt"/>
<text x="90.6" y="1123.0" font-size="16.5" font-weight="bold" text-anchor="end">0</text>
<text transform="translate(24.8,984.4) rotate(-90)" x="0" y="0" font-size="21" font-weight="bold" text-anchor="middle" textLength="181.5" lengthAdjust="spacingAndGlyphs">Normalized Peak</text>
<text transform="translate(52,981.5) rotate(-90)" x="0" y="0" font-size="21" font-weight="bold" text-anchor="middle" textLength="222.3" lengthAdjust="spacingAndGlyphs">height/Lag time ratio</text>
<line x1="241.8" y1="860.2" x2="241.8" y2="891.0" stroke="#111" stroke-width="1.4" stroke-linecap="butt"/>
<line x1="241.8" y1="1025.2" x2="241.8" y2="1095.0" stroke="#111" stroke-width="1.4" stroke-linecap="butt"/>
<rect x="192.0" y="891.0" width="99.5" height="134.20000000000005" fill="none" stroke="#111" stroke-width="1.6"/>
<line x1="192.0" y1="923.2" x2="291.5" y2="923.2" stroke="#111" stroke-width="1.6" stroke-linecap="butt"/>
<line x1="216.3" y1="860.2" x2="267.3" y2="860.2" stroke="#111" stroke-width="1.5" stroke-linecap="butt"/>
<line x1="216.3" y1="1095.0" x2="267.3" y2="1095.0" stroke="#111" stroke-width="1.5" stroke-linecap="butt"/>
<rect x="239.35" y="857.75" width="4.9" height="4.9" fill="#fff" stroke="#111" stroke-width="1.25"/>
<rect x="239.35" y="872.75" width="4.9" height="4.9" fill="#fff" stroke="#111" stroke-width="1.25"/>
<rect x="239.35" y="878.85" width="4.9" height="4.9" fill="#fff" stroke="#111" stroke-width="1.25"/>
<rect x="235.35" y="888.55" width="4.9" height="4.9" fill="#fff" stroke="#111" stroke-width="1.25"/>
<rect x="243.35" y="888.55" width="4.9" height="4.9" fill="#fff" stroke="#111" stroke-width="1.25"/>
<rect x="239.35" y="894.85" width="4.9" height="4.9" fill="#fff" stroke="#111" stroke-width="1.25"/>
<rect x="235.35" y="908.35" width="4.9" height="4.9" fill="#fff" stroke="#111" stroke-width="1.25"/>
<rect x="243.35" y="908.35" width="4.9" height="4.9" fill="#fff" stroke="#111" stroke-width="1.25"/>
<rect x="239.35" y="911.55" width="4.9" height="4.9" fill="#fff" stroke="#111" stroke-width="1.25"/>
<rect x="239.35" y="921.75" width="4.9" height="4.9" fill="#fff" stroke="#111" stroke-width="1.25"/>
<rect x="239.35" y="931.75" width="4.9" height="4.9" fill="#fff" stroke="#111" stroke-width="1.25"/>
<rect x="239.35" y="936.05" width="4.9" height="4.9" fill="#fff" stroke="#111" stroke-width="1.25"/>
<rect x="239.35" y="959.65" width="4.9" height="4.9" fill="#fff" stroke="#111" stroke-width="1.25"/>
<rect x="239.35" y="976.05" width="4.9" height="4.9" fill="#fff" stroke="#111" stroke-width="1.25"/>
<rect x="239.35" y="1022.75" width="4.9" height="4.9" fill="#fff" stroke="#111" stroke-width="1.25"/>
<rect x="239.35" y="1036.75" width="4.9" height="4.9" fill="#fff" stroke="#111" stroke-width="1.25"/>
<rect x="239.35" y="1069.45" width="4.9" height="4.9" fill="#fff" stroke="#111" stroke-width="1.25"/>
<rect x="239.35" y="1090.05" width="4.9" height="4.9" fill="#fff" stroke="#111" stroke-width="1.25"/>
<rect x="239.35" y="1092.95" width="4.9" height="4.9" fill="#fff" stroke="#111" stroke-width="1.25"/>
<line x1="241.8" y1="891.0" x2="241.8" y2="1025.2" stroke="#777" stroke-width="1.0" stroke-linecap="butt"/>
<line x1="375.6" y1="847.4" x2="375.6" y2="929.0" stroke="#111" stroke-width="1.4" stroke-linecap="butt"/>
<line x1="375.6" y1="1079.6" x2="375.6" y2="1120.0" stroke="#111" stroke-width="1.4" stroke-linecap="butt"/>
<rect x="326.0" y="929.0" width="100.19999999999999" height="150.5999999999999" fill="none" stroke="#111" stroke-width="1.6"/>
<line x1="326.0" y1="1025.8" x2="426.2" y2="1025.8" stroke="#111" stroke-width="1.6" stroke-linecap="butt"/>
<line x1="350.1" y1="847.4" x2="401.1" y2="847.4" stroke="#111" stroke-width="1.5" stroke-linecap="butt"/>
<line x1="350.1" y1="1120.0" x2="401.1" y2="1120.0" stroke="#111" stroke-width="1.5" stroke-linecap="butt"/>
<rect x="369.65" y="844.95" width="4.9" height="4.9" fill="#fff" stroke="#111" stroke-width="1.25"/>
<rect x="376.65" y="844.95" width="4.9" height="4.9" fill="#fff" stroke="#111" stroke-width="1.25"/>
<rect x="369.65" y="858.75" width="4.9" height="4.9" fill="#fff" stroke="#111" stroke-width="1.25"/>
<rect x="376.65" y="858.75" width="4.9" height="4.9" fill="#fff" stroke="#111" stroke-width="1.25"/>
<rect x="373.15" y="861.75" width="4.9" height="4.9" fill="#fff" stroke="#111" stroke-width="1.25"/>
<rect x="369.65" y="869.85" width="4.9" height="4.9" fill="#fff" stroke="#111" stroke-width="1.25"/>
<rect x="376.65" y="869.85" width="4.9" height="4.9" fill="#fff" stroke="#111" stroke-width="1.25"/>
<rect x="373.15" y="907.95" width="4.9" height="4.9" fill="#fff" stroke="#111" stroke-width="1.25"/>
<rect x="369.65" y="928.75" width="4.9" height="4.9" fill="#fff" stroke="#111" stroke-width="1.25"/>
<rect x="376.65" y="928.75" width="4.9" height="4.9" fill="#fff" stroke="#111" stroke-width="1.25"/>
<rect x="373.15" y="944.85" width="4.9" height="4.9" fill="#fff" stroke="#111" stroke-width="1.25"/>
<rect x="373.15" y="979.55" width="4.9" height="4.9" fill="#fff" stroke="#111" stroke-width="1.25"/>
<rect x="373.15" y="1004.45" width="4.9" height="4.9" fill="#fff" stroke="#111" stroke-width="1.25"/>
<rect x="373.15" y="1020.15" width="4.9" height="4.9" fill="#fff" stroke="#111" stroke-width="1.25"/>
<rect x="366.15" y="1023.65" width="4.9" height="4.9" fill="#fff" stroke="#111" stroke-width="1.25"/>
<rect x="373.15" y="1023.65" width="4.9" height="4.9" fill="#fff" stroke="#111" stroke-width="1.25"/>
<rect x="381.65" y="1023.65" width="4.9" height="4.9" fill="#fff" stroke="#111" stroke-width="1.25"/>
<rect x="373.15" y="1034.45" width="4.9" height="4.9" fill="#fff" stroke="#111" stroke-width="1.25"/>
<rect x="373.15" y="1038.55" width="4.9" height="4.9" fill="#fff" stroke="#111" stroke-width="1.25"/>
<rect x="373.15" y="1048.35" width="4.9" height="4.9" fill="#fff" stroke="#111" stroke-width="1.25"/>
<rect x="373.15" y="1059.85" width="4.9" height="4.9" fill="#fff" stroke="#111" stroke-width="1.25"/>
<rect x="373.15" y="1064.45" width="4.9" height="4.9" fill="#fff" stroke="#111" stroke-width="1.25"/>
<rect x="369.65" y="1068.65" width="4.9" height="4.9" fill="#fff" stroke="#111" stroke-width="1.25"/>
<rect x="376.65" y="1068.65" width="4.9" height="4.9" fill="#fff" stroke="#111" stroke-width="1.25"/>
<rect x="373.15" y="1072.55" width="4.9" height="4.9" fill="#fff" stroke="#111" stroke-width="1.25"/>
<rect x="366.15" y="1085.95" width="4.9" height="4.9" fill="#fff" stroke="#111" stroke-width="1.25"/>
<rect x="373.15" y="1085.95" width="4.9" height="4.9" fill="#fff" stroke="#111" stroke-width="1.25"/>
<rect x="381.65" y="1085.95" width="4.9" height="4.9" fill="#fff" stroke="#111" stroke-width="1.25"/>
<rect x="366.15" y="1097.55" width="4.9" height="4.9" fill="#fff" stroke="#111" stroke-width="1.25"/>
<rect x="373.15" y="1097.55" width="4.9" height="4.9" fill="#fff" stroke="#111" stroke-width="1.25"/>
<rect x="381.65" y="1097.55" width="4.9" height="4.9" fill="#fff" stroke="#111" stroke-width="1.25"/>
<rect x="373.15" y="1102.55" width="4.9" height="4.9" fill="#fff" stroke="#111" stroke-width="1.25"/>
<rect x="373.15" y="1117.55" width="4.9" height="4.9" fill="#fff" stroke="#111" stroke-width="1.25"/>
<line x1="375.6" y1="929.0" x2="375.6" y2="1079.6" stroke="#777" stroke-width="1.0" stroke-linecap="butt"/>
<line x1="98.3" y1="922.2" x2="517.8" y2="922.2" stroke="#111" stroke-width="2.0" stroke-linecap="butt"/>
<text x="276.9" y="874.8" font-size="16.8" textLength="60.0" lengthAdjust="spacingAndGlyphs"><tspan font-style="italic">P</tspan> = .095</text>
</svg></body></html>
